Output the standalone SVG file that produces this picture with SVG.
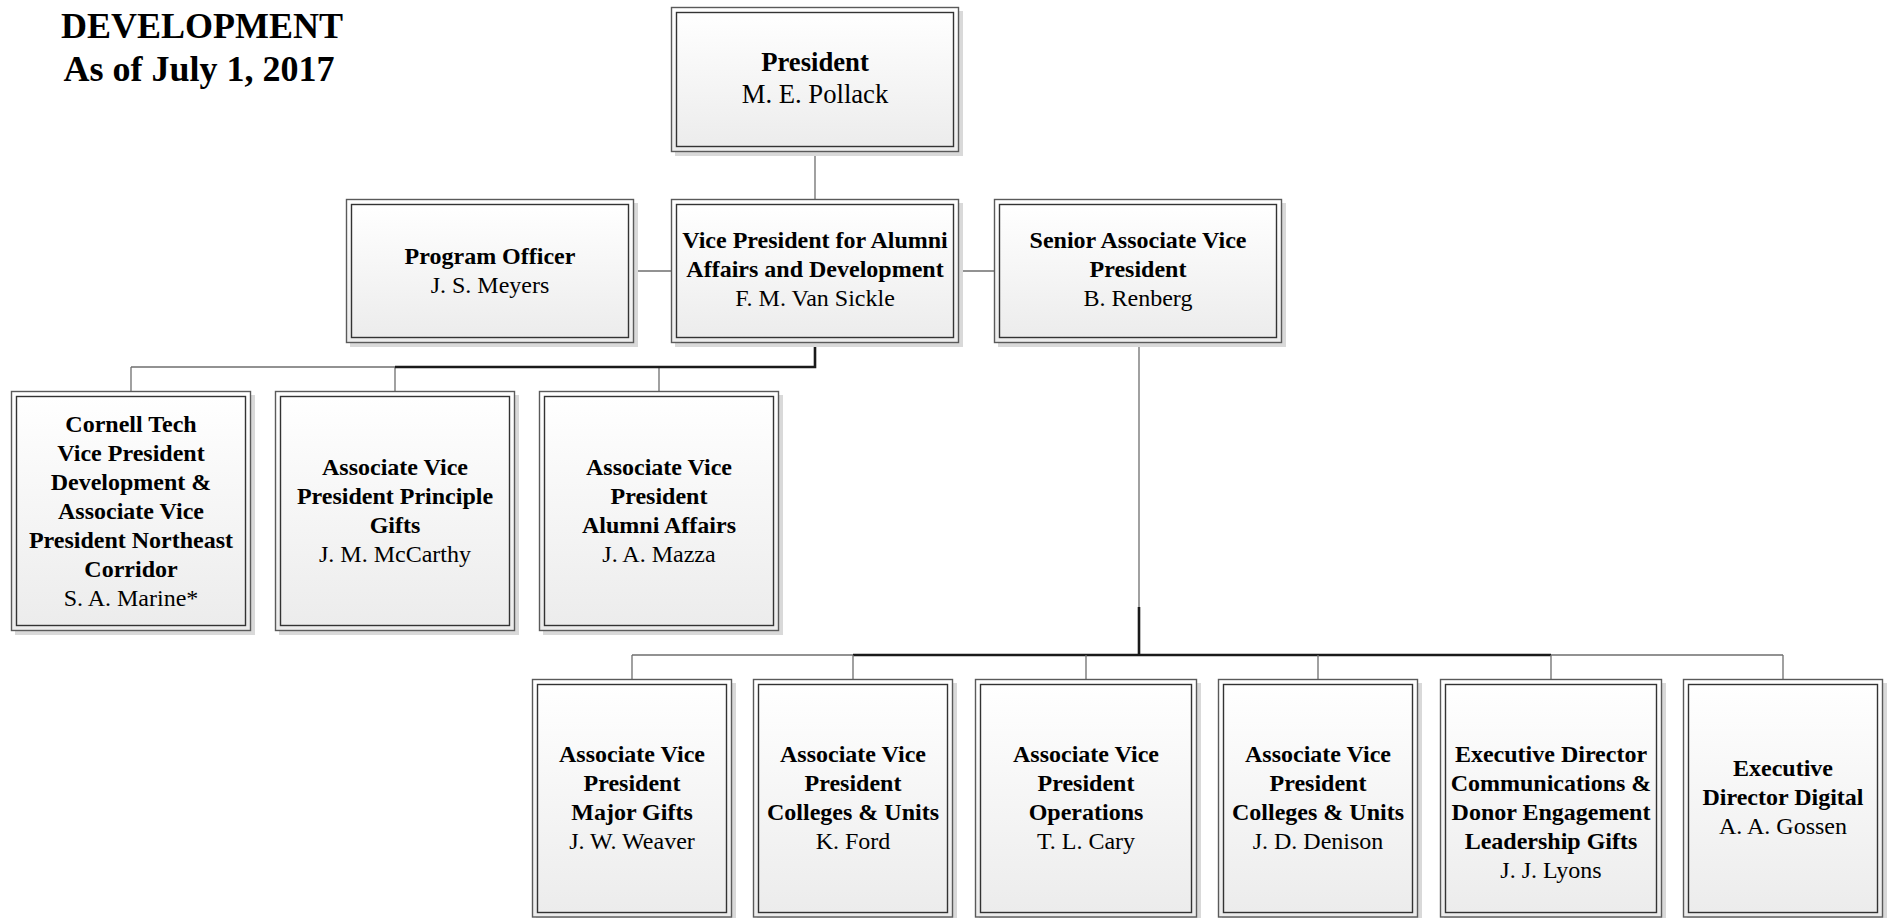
<svg xmlns="http://www.w3.org/2000/svg" width="1887" height="918" viewBox="0 0 1887 918">
<defs>
<linearGradient id="g" x1="0" y1="0" x2="0" y2="1">
<stop offset="0" stop-color="#ffffff"/>
<stop offset="1" stop-color="#ececec"/>
</linearGradient>
<style>
.sh{fill:#d9d9d9;stroke:none}
.o{fill:url(#g);stroke:#5a5a5a;stroke-width:1.4}
.i{fill:url(#g);stroke:#333333;stroke-width:1.4}
text{font-family:"Liberation Serif","Times New Roman",serif;text-anchor:middle;fill:#000}
.t{font-size:24px}
.p{font-size:26.67px}
.b{font-weight:bold}
.title{font-size:36px;font-weight:bold}
.thin{stroke:#6e6e6e;stroke-width:1.3;fill:none}
.thick{stroke:#1a1a1a;stroke-width:2.6;fill:none}
</style>
</defs>
<rect width="1887" height="918" fill="#ffffff"/>

<g id="title">
<text class="title" x="202" y="38">DEVELOPMENT</text>
<text class="title" x="199" y="81">As of July 1, 2017</text>
</g>

<g id="connectors">
<line class="thin" x1="815" y1="152" x2="815" y2="199"/>
<line class="thin" x1="634" y1="271" x2="671" y2="271"/>
<line class="thin" x1="959" y1="271" x2="994" y2="271"/>
<line class="thin" x1="131" y1="367" x2="395" y2="367"/>
<line class="thin" x1="131" y1="367" x2="131" y2="391"/>
<line class="thin" x1="395" y1="367" x2="395" y2="391"/>
<line class="thin" x1="659" y1="367" x2="659" y2="391"/>
<polyline class="thick" points="815,343 815,367 395,367"/>
<line class="thin" x1="1139" y1="343" x2="1139" y2="607"/>
<polyline class="thick" points="1139,607 1139,655"/>
<line class="thin" x1="632" y1="655" x2="853" y2="655"/>
<line class="thin" x1="1551" y1="655" x2="1783" y2="655"/>
<line class="thick" x1="853" y1="655" x2="1551" y2="655"/>
<line class="thin" x1="632" y1="655" x2="632" y2="679"/>
<line class="thin" x1="853" y1="655" x2="853" y2="679"/>
<line class="thin" x1="1086" y1="655" x2="1086" y2="679"/>
<line class="thin" x1="1318" y1="655" x2="1318" y2="679"/>
<line class="thin" x1="1551" y1="655" x2="1551" y2="679"/>
<line class="thin" x1="1783" y1="655" x2="1783" y2="679"/>
</g>

<g id="n-president">
<rect class="sh" x="675" y="11" width="288" height="145"/>
<rect class="o" x="671.5" y="7.5" width="287" height="144"/>
<rect class="i" x="676.5" y="12.5" width="277" height="134"/>
<text class="p b" x="815" y="71">President</text>
<text class="p" x="815" y="103">M. E. Pollack</text>
</g>

<g id="n-program">
<rect class="sh" x="350" y="203" width="288" height="144"/>
<rect class="o" x="346.5" y="199.5" width="287" height="143"/>
<rect class="i" x="351.5" y="204.5" width="277" height="133"/>
<text class="t b" x="490" y="264">Program Officer</text>
<text class="t" x="490" y="293">J. S. Meyers</text>
</g>

<g id="n-vp">
<rect class="sh" x="675" y="203" width="288" height="144"/>
<rect class="o" x="671.5" y="199.5" width="287" height="143"/>
<rect class="i" x="676.5" y="204.5" width="277" height="133"/>
<text class="t b" x="815" y="248">Vice President for Alumni</text>
<text class="t b" x="815" y="277">Affairs and Development</text>
<text class="t" x="815" y="306">F. M. Van Sickle</text>
</g>

<g id="n-senior">
<rect class="sh" x="998" y="203" width="288" height="144"/>
<rect class="o" x="994.5" y="199.5" width="287" height="143"/>
<rect class="i" x="999.5" y="204.5" width="277" height="133"/>
<text class="t b" x="1138" y="248">Senior Associate Vice</text>
<text class="t b" x="1138" y="277">President</text>
<text class="t" x="1138" y="306">B. Renberg</text>
</g>

<g id="n-marine">
<rect class="sh" x="15" y="395" width="240" height="240"/>
<rect class="o" x="11.5" y="391.5" width="239" height="239"/>
<rect class="i" x="16.5" y="396.5" width="229" height="229"/>
<text class="t b" x="131" y="432">Cornell Tech</text>
<text class="t b" x="131" y="461">Vice President</text>
<text class="t b" x="131" y="490">Development &amp;</text>
<text class="t b" x="131" y="519">Associate Vice</text>
<text class="t b" x="131" y="548">President Northeast</text>
<text class="t b" x="131" y="577">Corridor</text>
<text class="t" x="131" y="606">S. A. Marine*</text>
</g>

<g id="n-mccarthy">
<rect class="sh" x="279" y="395" width="240" height="240"/>
<rect class="o" x="275.5" y="391.5" width="239" height="239"/>
<rect class="i" x="280.5" y="396.5" width="229" height="229"/>
<text class="t b" x="395" y="475">Associate Vice</text>
<text class="t b" x="395" y="504">President Principle</text>
<text class="t b" x="395" y="533">Gifts</text>
<text class="t" x="395" y="562">J. M. McCarthy</text>
</g>

<g id="n-mazza">
<rect class="sh" x="543" y="395" width="240" height="240"/>
<rect class="o" x="539.5" y="391.5" width="239" height="239"/>
<rect class="i" x="544.5" y="396.5" width="229" height="229"/>
<text class="t b" x="659" y="475">Associate Vice</text>
<text class="t b" x="659" y="504">President</text>
<text class="t b" x="659" y="533">Alumni Affairs</text>
<text class="t" x="659" y="562">J. A. Mazza</text>
</g>

<g id="n-weaver">
<rect class="sh" x="536" y="683" width="200" height="240"/>
<rect class="o" x="532.5" y="679.5" width="199" height="237.5"/>
<rect class="i" x="537.5" y="684.5" width="189" height="228"/>
<text class="t b" x="632" y="762">Associate Vice</text>
<text class="t b" x="632" y="791">President</text>
<text class="t b" x="632" y="820">Major Gifts</text>
<text class="t" x="632" y="849">J. W. Weaver</text>
</g>

<g id="n-ford">
<rect class="sh" x="757" y="683" width="200" height="240"/>
<rect class="o" x="753.5" y="679.5" width="199" height="237.5"/>
<rect class="i" x="758.5" y="684.5" width="189" height="228"/>
<text class="t b" x="853" y="762">Associate Vice</text>
<text class="t b" x="853" y="791">President</text>
<text class="t b" x="853" y="820">Colleges &amp; Units</text>
<text class="t" x="853" y="849">K. Ford</text>
</g>

<g id="n-cary">
<rect class="sh" x="979" y="683" width="222" height="240"/>
<rect class="o" x="975.5" y="679.5" width="221" height="237.5"/>
<rect class="i" x="980.5" y="684.5" width="211" height="228"/>
<text class="t b" x="1086" y="762">Associate Vice</text>
<text class="t b" x="1086" y="791">President</text>
<text class="t b" x="1086" y="820">Operations</text>
<text class="t" x="1086" y="849">T. L. Cary</text>
</g>

<g id="n-denison">
<rect class="sh" x="1222" y="683" width="200" height="240"/>
<rect class="o" x="1218.5" y="679.5" width="199" height="237.5"/>
<rect class="i" x="1223.5" y="684.5" width="189" height="228"/>
<text class="t b" x="1318" y="762">Associate Vice</text>
<text class="t b" x="1318" y="791">President</text>
<text class="t b" x="1318" y="820">Colleges &amp; Units</text>
<text class="t" x="1318" y="849">J. D. Denison</text>
</g>

<g id="n-lyons">
<rect class="sh" x="1444" y="683" width="222" height="240"/>
<rect class="o" x="1440.5" y="679.5" width="221" height="237.5"/>
<rect class="i" x="1445.5" y="684.5" width="211" height="228"/>
<text class="t b" x="1551" y="762">Executive Director</text>
<text class="t b" x="1551" y="791">Communications &amp;</text>
<text class="t b" x="1551" y="820">Donor Engagement</text>
<text class="t b" x="1551" y="849">Leadership Gifts</text>
<text class="t" x="1551" y="878">J. J. Lyons</text>
</g>

<g id="n-gossen">
<rect class="sh" x="1687" y="683" width="200" height="240"/>
<rect class="o" x="1683.5" y="679.5" width="199" height="237.5"/>
<rect class="i" x="1688.5" y="684.5" width="189" height="228"/>
<text class="t b" x="1783" y="776">Executive</text>
<text class="t b" x="1783" y="805">Director Digital</text>
<text class="t" x="1783" y="834">A. A. Gossen</text>
</g>
</svg>
